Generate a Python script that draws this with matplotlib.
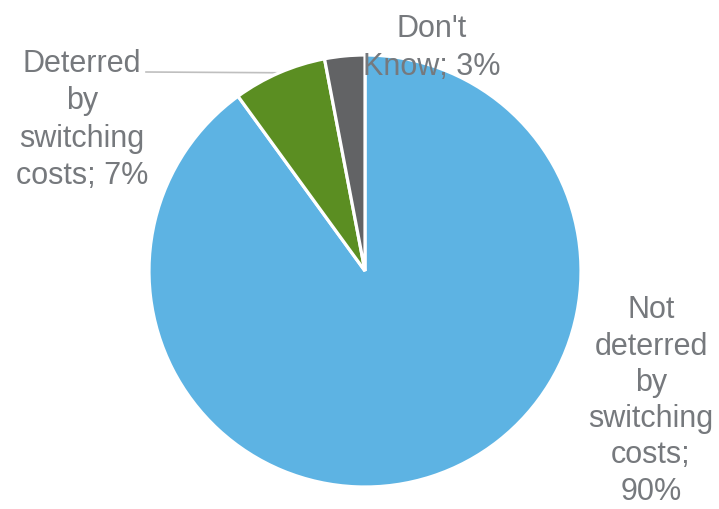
import numpy as np
import matplotlib
matplotlib.use("Agg")
import matplotlib.pyplot as plt

categories = ["Not\ndeterred\nby\nswitching\ncosts", "Deterred\nby\nswitching\ncosts", "Don't\nKnow"]
shares = [90, 7, 3]
colors = ["#5DB3E3", "#5B8E22", "#626365"]
# how the percentage follows each category name
joiners = [";\n", "; ", "; "]

plt.rcParams["font.family"] = ["Liberation Sans", "DejaVu Sans"]

W, H = 719, 510
fig = plt.figure(figsize=(W / 100, H / 100), dpi=100)
ax = fig.add_axes([0, 0, 1, 1])

cx, cy, r = 365, H - 272, 216
wedges, _ = ax.pie(shares, colors=colors, startangle=90, counterclock=False,
                   center=(cx, cy), radius=r,
                   wedgeprops=dict(edgecolor="white", linewidth=2.3))
ax.set_xlim(0, W)
ax.set_ylim(0, H)
ax.set_aspect("auto")
ax.axis("off")

text_color = "#76797D"
fs = 22

# label text positions (centre of each text block)
label_pos = [(651, H - 401), (82, H - 120), (432, H - 48)]
spacing = [1.27, 1.33, 1.33]
for cat, val, join, (tx, ty), ls in zip(categories, shares, joiners, label_pos, spacing):
    ax.text(tx, ty, f"{cat}{join}{val}%", ha="center", va="center", fontsize=fs,
            color=text_color, linespacing=ls)

# leader line to the "Deterred" wedge
w = wedges[1]
mid = np.deg2rad((w.theta1 + w.theta2) / 2)
ex, ey = cx + r * np.cos(mid), cy + r * np.sin(mid)
ax.plot([146, ex], [H - 73, ey], color="#BFBFBF", linewidth=1.2, zorder=0)

fig.savefig("out.png", dpi=100)
